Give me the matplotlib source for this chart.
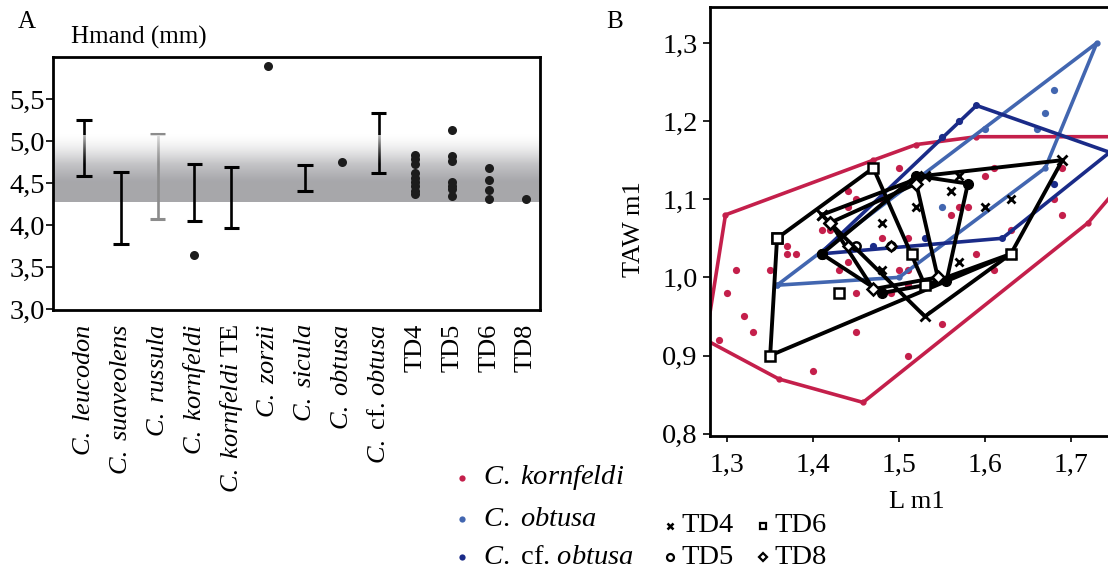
import numpy as np
import matplotlib
matplotlib.use('Agg')
import matplotlib.pyplot as plt

plt.rcParams['font.family'] = ['Liberation Serif', 'DejaVu Serif']
plt.rcParams['mathtext.fontset'] = 'custom'
plt.rcParams['mathtext.rm'] = 'Liberation Serif'
plt.rcParams['mathtext.it'] = 'Liberation Serif:italic'

# ---------------- Panel A data ----------------
categories = [r'$\mathit{C.\ leucodon}$', r'$\mathit{C.\ suaveolens}$', r'$\mathit{C.\ russula}$',
              r'$\mathit{C.\ kornfeldi}$', r'$\mathit{C.\ kornfeldi}$ TE', r'$\mathit{C.\ zorzii}$',
              r'$\mathit{C.\ sicula}$', r'$\mathit{C.\ obtusa}$', r'$\mathit{C.}$ cf. $\mathit{obtusa}$',
              'TD4', 'TD5', 'TD6', 'TD8']
range_idx = [0, 1, 2, 3, 4, 6, 8]
range_low = [4.58, 3.77, 4.07, 4.05, 3.97, 4.40, 4.62]
range_high = [5.25, 4.63, 5.08, 4.73, 4.69, 4.71, 5.33]
range_color = ['black', 'black', '#8c8c8c', 'black', 'black', 'black', 'black']

point_idx = [3, 5, 7,
             9, 9, 9, 9, 9, 9, 9, 9, 9,
             10, 10, 10, 10, 10, 10, 10,
             11, 11, 11, 11,
             12]
point_val = [3.64, 5.89, 4.75,
             4.83, 4.79, 4.73, 4.62, 4.56, 4.51, 4.46, 4.41, 4.37,
             5.13, 4.82, 4.76, 4.51, 4.46, 4.43, 4.35,
             4.68, 4.54, 4.42, 4.31,
             4.31]
band_low, band_high = 4.27, 5.07
a_yticks = [3.0, 3.5, 4.0, 4.5, 5.0, 5.5]
a_yticklabels = ['3,0', '3,5', '4,0', '4,5', '5,0', '5,5']

# ---------------- Panel B data ----------------
red = '#c41f4b'
blue = '#4266b0'
navy = '#1a2b88'

korn_L = [1.50, 1.44, 1.45, 1.44, 1.48, 1.41, 1.42, 1.37, 1.38, 1.37, 1.48, 1.51, 1.44, 1.43, 1.31,
          1.35, 1.50, 1.51, 1.51, 1.30, 1.45, 1.49, 1.60, 1.61, 1.56, 1.58, 1.59, 1.61, 1.63, 1.69,
          1.68, 1.69, 1.57, 1.32, 1.33, 1.29, 1.40, 1.45, 1.51, 1.55]
korn_T = [1.14, 1.11, 1.10, 1.09, 1.10, 1.06, 1.06, 1.04, 1.03, 1.03, 1.05, 1.05, 1.02, 1.01, 1.01,
          1.01, 1.01, 1.01, 0.99, 0.98, 0.98, 0.98, 1.13, 1.14, 1.08, 1.09, 1.03, 1.01, 1.06, 1.14,
          1.10, 1.08, 1.09, 0.95, 0.93, 0.92, 0.88, 0.93, 0.90, 0.94]
korn_hull_L = [1.275, 1.298, 1.47, 1.52, 1.59, 1.76, 1.747, 1.72, 1.458, 1.36]
korn_hull_T = [0.92, 1.08, 1.15, 1.17, 1.18, 1.18, 1.105, 1.07, 0.84, 0.87]

obt_L = [1.60, 1.66, 1.67, 1.68, 1.55]
obt_T = [1.19, 1.19, 1.21, 1.24, 1.09]
obt_hull_L = [1.358, 1.73, 1.67, 1.50]
obt_hull_T = [0.99, 1.30, 1.14, 1.00]

cf_L = [1.55, 1.57, 1.53, 1.68, 1.47]
cf_T = [1.18, 1.20, 1.05, 1.12, 1.04]
cf_hull_L = [1.408, 1.59, 1.745, 1.62]
cf_hull_T = [1.03, 1.22, 1.16, 1.05]

td4_L = [1.41, 1.53, 1.69, 1.63, 1.53]
td4_T = [1.08, 1.13, 1.15, 1.03, 0.95]
td4_pts_L = [1.52, 1.56, 1.60, 1.63, 1.57, 1.57, 1.48, 1.48]
td4_pts_T = [1.09, 1.11, 1.09, 1.10, 1.02, 1.13, 1.07, 1.01]
td5_L = [1.41, 1.52, 1.58, 1.555, 1.48]
td5_T = [1.03, 1.13, 1.12, 0.995, 0.98]
td5_pts_L = [1.45, 1.49]
td5_pts_T = [1.04, 1.04]
td6_L = [1.358, 1.47, 1.53, 1.63, 1.35]
td6_T = [1.05, 1.14, 0.99, 1.03, 0.90]
td6_pts_L = [1.43, 1.515]
td6_pts_T = [0.98, 1.03]
td8_L = [1.42, 1.52, 1.545, 1.47]
td8_T = [1.07, 1.12, 1.00, 0.985]
td8_pts_L = [1.49, 1.44]
td8_pts_T = [1.04, 1.04]

b_xticks = [1.3, 1.4, 1.5, 1.6, 1.7]
b_xticklabels = ['1,3', '1,4', '1,5', '1,6', '1,7']
b_yticks = [0.8, 0.9, 1.0, 1.1, 1.2, 1.3]
b_yticklabels = ['0,8', '0,9', '1,0', '1,1', '1,2', '1,3']

W, H = 1108, 571
fig = plt.figure(figsize=(W / 100, H / 100), dpi=100)
FS = 19
FS_T = 20.5
FS_L = 20.5

# ---------------- Panel A ----------------
axA = fig.add_axes([53 / W, 1 - 310 / H, 487 / W, 253 / H])
xlo, xhi = -0.84, 12.38
axA.set_xlim(xlo, xhi)
axA.set_ylim(2.99, 6.0)

# gradient band
n = 200
t = np.linspace(0, 1, n)[:, None]  # 0 bottom .. 1 top
grey = np.array([0.655, 0.655, 0.67])
frac = np.clip((t - 0.30) / 0.70, 0, 1) ** 1.1
col = grey[None, None, :] * (1 - frac[..., None]) + 1.0 * frac[..., None]
img = np.repeat(col, 2, axis=1)
axA.imshow(img, extent=(xlo, xhi, band_low, band_high), origin='lower', aspect='auto',
           zorder=0, interpolation='bilinear')

# range bars
cap = 0.21
for i, lo, hi, c in zip(range_idx, range_low, range_high, range_color):
    axA.vlines(i, lo, hi, color=c, lw=1.9, zorder=2)
    axA.hlines([lo, hi], i - cap, i + cap, color=c, lw=2.2, zorder=2)

# white fade overlay on upper part of band (fades bars)
ov_lo = 4.72
t2 = np.linspace(0, 1, n)[:, None]
ov = np.ones((n, 2, 4))
ov[..., 3] = (t2 ** 1.3) * 0.72
axA.imshow(ov, extent=(xlo, xhi, ov_lo, band_high), origin='lower', aspect='auto',
           zorder=2.5, interpolation='bilinear')

axA.plot(point_idx, point_val, 'o', color='#1c1c1c', ms=6.5, mew=0, zorder=3, linestyle='none')

axA.set_yticks(a_yticks)
axA.set_yticklabels(a_yticklabels, fontsize=FS_T)
axA.set_xticks(range(len(categories)))
axA.set_xticklabels(categories, rotation=90, fontsize=FS)
axA.tick_params(axis='x', length=0, pad=10)
axA.tick_params(axis='y', length=5, width=1.2, pad=1)
for s in axA.spines.values():
    s.set_linewidth(2.0)

fig.text(27 / W, 1 - 22 / H, 'A', ha='center', va='center', fontsize=18)
fig.text(71 / W, 1 - 37 / H, 'Hmand (mm)', ha='left', va='center', fontsize=18)

# ---------------- Panel B ----------------
axB = fig.add_axes([710 / W, 1 - 436 / H, 398 / W, 429 / H])
axB.set_xlim(1.28, 1.743)
axB.set_ylim(0.797, 1.346)

def closed(a):
    return list(a) + [a[0]]

lw_c = 2.6
axB.plot(closed(korn_hull_L), closed(korn_hull_T), '-', color=red, lw=lw_c, marker='o', ms=3.5, zorder=2)
axB.plot(korn_L, korn_T, 'o', color=red, ms=5.2, mew=0, zorder=2)
axB.plot(closed(obt_hull_L), closed(obt_hull_T), '-', color=blue, lw=lw_c, marker='o', ms=3.5, zorder=2.2)
axB.plot(obt_L, obt_T, 'o', color=blue, ms=5.2, mew=0, zorder=2.2)
axB.plot(closed(cf_hull_L), closed(cf_hull_T), '-', color=navy, lw=lw_c, marker='o', ms=4, zorder=2.3)
axB.plot(cf_L, cf_T, 'o', color=navy, ms=5.2, mew=0, zorder=2.3)

lw_k = 2.8
axB.plot(closed(td4_L), closed(td4_T), '-', color='black', lw=lw_k, marker='x', ms=7, mew=2, zorder=3)
axB.plot(td4_pts_L, td4_pts_T, 'x', color='black', ms=6, mew=2, zorder=3)
axB.plot(closed(td5_L), closed(td5_T), '-', color='black', lw=lw_k, marker='o', ms=7, zorder=3)
axB.plot(td5_pts_L, td5_pts_T, 'o', mfc='none', mec='black', ms=6, mew=1.8, zorder=3)
axB.plot(closed(td6_L), closed(td6_T), '-', color='black', lw=lw_k, marker='s', ms=7,
         mfc='white', mec='black', mew=1.8, zorder=3)
axB.plot(td6_pts_L, td6_pts_T, 's', mfc='white', mec='black', ms=7, mew=1.8, zorder=3)
axB.plot(closed(td8_L), closed(td8_T), '-', color='black', lw=lw_k, marker='D', ms=6,
         mfc='white', mec='black', mew=1.8, zorder=3)
axB.plot(td8_pts_L, td8_pts_T, 'D', mfc='white', mec='black', ms=5, mew=1.8, zorder=3)

axB.set_xticks(b_xticks)
axB.set_xticklabels(b_xticklabels, fontsize=20)
axB.set_yticks(b_yticks)
axB.set_yticklabels(b_yticklabels, fontsize=FS_T)
axB.tick_params(axis='x', length=4, width=1.2, pad=8)
axB.tick_params(axis='y', length=5, width=1.2, pad=4)
axB.spines['right'].set_visible(False)
for s in ['left', 'top', 'bottom']:
    axB.spines[s].set_linewidth(2.0)
axB.set_xlabel('L m1', fontsize=FS)
axB.xaxis.set_label_coords((917 - 710) / 398, (436 - 491) / 429)
axB.set_ylabel('TAW m1', fontsize=FS)
axB.yaxis.set_label_coords((645 - 710) / 398, (436 - 229) / 429)

fig.text(615 / W, 1 - 22 / H, 'B', ha='center', va='center', fontsize=18)

# ---------------- Legend ----------------
lax = fig.add_axes([0, 0, 1, 1])
lax.set_xlim(0, W)
lax.set_ylim(H, 0)
lax.axis('off')
leg_species = [r'$\mathit{C.\ kornfeldi}$', r'$\mathit{C.\ obtusa}$', r'$\mathit{C.}$ cf. $\mathit{obtusa}$']
leg_colors = [red, blue, navy]
for k, (lab, c) in enumerate(zip(leg_species, leg_colors)):
    yy = [478, 519, 557][k]
    lax.plot([462], [yy], 'o', color=c, ms=4.5, mew=0)
    lax.text(483, yy, lab, fontsize=FS_L, va='center', ha='left')
td_labels = ['TD4', 'TD6', 'TD5', 'TD8']
td_markers = ['x', 's', 'o', 'D']
td_pos = [(670, 526), (763, 526), (670, 557), (763, 557)]
for lab, m, (xx, yy) in zip(td_labels, td_markers, td_pos):
    if m == 'x':
        lax.plot([xx], [yy], m, color='black', ms=5, mew=1.8)
    else:
        lax.plot([xx], [yy], m, mfc='white', mec='black', ms=5 if m != 'D' else 4.5, mew=1.6)
    lax.text(xx + 11, yy, lab, fontsize=FS_L, va='center', ha='left')

fig.savefig('out.png', dpi=100)
